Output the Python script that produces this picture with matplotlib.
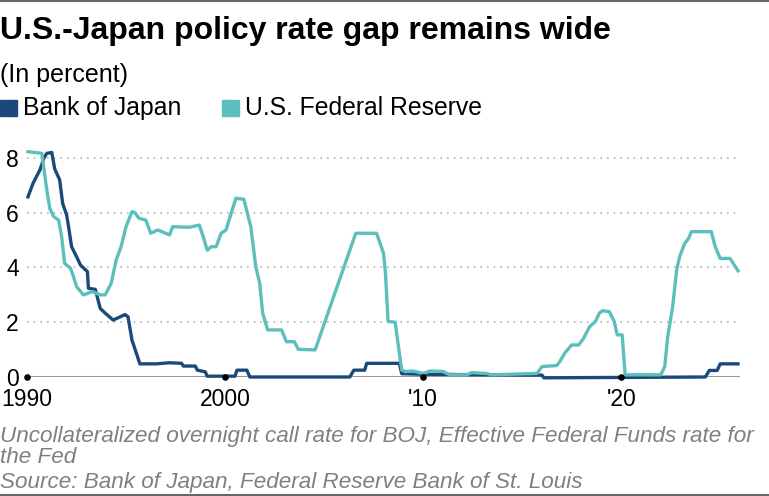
import matplotlib
matplotlib.use("Agg")
import matplotlib.pyplot as plt
from matplotlib.lines import Line2D
from matplotlib.patches import Rectangle

plt.rcParams['font.family'] = ['Liberation Sans', 'DejaVu Sans']

# Bank of Japan uncollateralized overnight call rate
boj_years = [1990.05, 1990.3, 1990.65, 1990.85, 1991.0, 1991.25, 1991.4, 1991.65, 1991.8,
             1992.0, 1992.1, 1992.25, 1992.5, 1992.7, 1993.05, 1993.1, 1993.45, 1993.7,
             1994.0, 1994.35, 1994.95, 1995.1, 1995.3, 1995.7, 1996.5, 1997.2, 1997.8,
             1997.9, 1998.5, 1998.6, 1999.0, 1999.1, 2000.5, 2000.6, 2001.1, 2001.25,
             2006.3, 2006.5, 2007.05, 2007.15, 2008.8, 2008.92, 2010.0, 2013.3, 2016.0,
             2016.1, 2024.25, 2024.45, 2024.85, 2025.0, 2025.9]
boj_rate = [6.58, 7.07, 7.56, 7.99, 8.17, 8.2, 7.6, 7.2, 6.34,
            5.92, 5.49, 4.76, 4.4, 4.09, 3.85, 3.24, 3.2, 2.5,
            2.3, 2.08, 2.28, 2.2, 1.35, 0.48, 0.48, 0.52, 0.5,
            0.4, 0.4, 0.25, 0.19, 0.03, 0.03, 0.25, 0.25, 0.0,
            0.0, 0.25, 0.25, 0.5, 0.5, 0.12, 0.1, 0.08, 0.07,
            -0.03, 0.0, 0.24, 0.24, 0.48, 0.48]

# Effective Federal Funds rate
fed_years = [1990.05, 1990.75, 1991.0, 1991.15, 1991.35, 1991.6, 1991.75, 1991.9, 1992.2,
             1992.35, 1992.5, 1992.85, 1993.3, 1993.7, 1993.95, 1994.25, 1994.5, 1994.75,
             1995.0, 1995.3, 1995.45, 1995.65, 1996.0, 1996.25, 1996.6, 1997.0, 1997.2,
             1997.35, 1998.2, 1998.7, 1998.9, 1999.1, 1999.3, 1999.55, 1999.8, 2000.05,
             2000.2, 2000.55, 2000.95, 2001.3, 2001.55, 2001.75, 2001.9, 2002.15, 2002.85,
             2003.1, 2003.5, 2003.7, 2004.55, 2005.6, 2006.6, 2007.65, 2008.0, 2008.1,
             2008.23, 2008.59, 2008.8, 2008.92, 2009.1, 2009.5, 2010.0, 2010.35, 2011.0,
             2011.35, 2012.2, 2012.45, 2013.2, 2013.45, 2015.75, 2016.0, 2016.75, 2016.9,
             2017.15, 2017.5, 2017.85, 2018.1, 2018.4, 2018.7, 2018.9, 2019.05, 2019.4,
             2019.65, 2019.8, 2020.05, 2020.2, 2022.0, 2022.2, 2022.35, 2022.6, 2022.8,
             2022.95, 2023.2, 2023.4, 2023.55, 2024.55, 2024.75, 2025.0, 2025.5, 2025.9]
fed_rate = [8.23, 8.17, 6.83, 6.16, 5.86, 5.73, 5.12, 4.15, 3.97,
            3.66, 3.3, 3.0, 3.12, 3.0, 3.0, 3.42, 4.27, 4.76,
            5.49, 6.04, 6.0, 5.8, 5.73, 5.25, 5.37, 5.25, 5.19,
            5.49, 5.47, 5.55, 5.12, 4.63, 4.76, 4.76, 5.25, 5.37,
            5.73, 6.53, 6.49, 5.49, 4.03, 3.42, 2.33, 1.72, 1.72,
            1.29, 1.29, 1.01, 0.99, 3.18, 5.25, 5.25, 4.52, 3.79,
            2.03, 2.0, 0.87, 0.26, 0.2, 0.22, 0.13, 0.22, 0.2,
            0.08, 0.08, 0.16, 0.13, 0.08, 0.13, 0.38, 0.42, 0.56,
            0.87, 1.17, 1.17, 1.41, 1.83, 2.03, 2.33, 2.42, 2.39,
            2.03, 1.54, 1.54, 0.08, 0.08, 0.38, 1.47, 2.57, 3.91,
            4.39, 4.87, 5.06, 5.31, 5.31, 4.76, 4.33, 4.33, 3.88]

x_ticks = [1990, 2000, 2010, 2020]
x_labels = ["1990", "2000", "'10", "'20"]
y_ticks = [0, 2, 4, 6, 8]

boj_color = "#1b4a7a"
fed_color = "#5cbfbc"

fig = plt.figure(figsize=(7.69, 4.96), dpi=100)
ax = fig.add_axes([27 / 769, 1 - 377 / 496, 713 / 769, (377 - 144.3) / 496])

ax.plot(fed_years, fed_rate, color=fed_color, lw=2.4, solid_joinstyle='round', zorder=3, clip_on=False)
ax.plot(boj_years, boj_rate, color=boj_color, lw=2.4, solid_joinstyle='round', zorder=2, clip_on=False)

ax.set_xlim(1990, 2026)
ax.set_ylim(0, 8.5)
ax.set_xticks(x_ticks)
ax.set_xticklabels(x_labels)
ax.set_yticks(y_ticks)
ax.tick_params(axis='both', length=0, labelsize=16.5, colors='black')
ax.tick_params(axis='y', pad=6)
ax.tick_params(axis='x', pad=8)
for sp in ax.spines.values():
    sp.set_visible(False)

for yv in y_ticks[1:]:
    ax.axhline(yv, color="#b5b5b5", lw=1.2, ls=(0, (1, 3)), zorder=1)
ax.axhline(0, color="#999999", lw=1.5, zorder=1.5)
ax.scatter(x_ticks, [0] * len(x_ticks), s=14, color='black', zorder=4, clip_on=False)

# header and footer
fig.add_artist(Line2D([0, 1], [1 - 1 / 496, 1 - 1 / 496], color="#666666", lw=1.5))
fig.add_artist(Line2D([0, 1], [1 - 495 / 496, 1 - 495 / 496], color="#666666", lw=1.5))
fig.text(0.0, 1 - 39 / 496, "U.S.-Japan policy rate gap remains wide", fontsize=23,
         fontweight='bold', ha='left', va='baseline')
fig.text(0.0, 1 - 82 / 496, "(In percent)", fontsize=18, ha='left', va='baseline')

fig.add_artist(Rectangle((0, 1 - 116 / 496), 17 / 769, 16 / 496, color=boj_color, transform=fig.transFigure))
fig.text(23 / 769, 1 - 115 / 496, "Bank of Japan", fontsize=17.8, ha='left', va='baseline')
fig.add_artist(Rectangle((222 / 769, 1 - 116 / 496), 17 / 769, 16 / 496, color=fed_color, transform=fig.transFigure))
fig.text(245 / 769, 1 - 115 / 496, "U.S. Federal Reserve", fontsize=17.8, ha='left', va='baseline')

note_color = "#808080"
fig.text(0.0, 1 - 442 / 496, "Uncollateralized overnight call rate for BOJ, Effective Federal Funds rate for",
         fontsize=16.2, style='italic', color=note_color, ha='left', va='baseline')
fig.text(0.0, 1 - 463 / 496, "the Fed", fontsize=16.2, style='italic', color=note_color, ha='left', va='baseline')
fig.text(0.0, 1 - 488 / 496, "Source: Bank of Japan, Federal Reserve Bank of St. Louis",
         fontsize=16.2, style='italic', color=note_color, ha='left', va='baseline')

fig.savefig("out.png", dpi=100)
